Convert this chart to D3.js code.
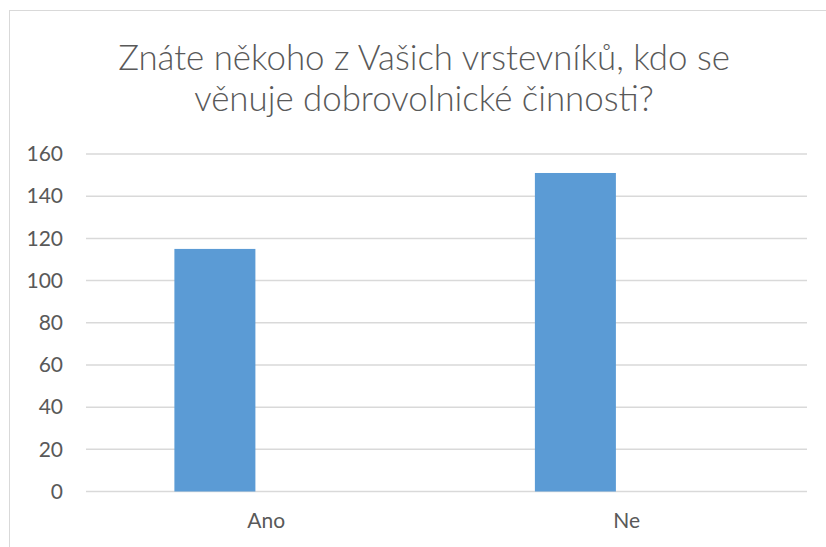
<!DOCTYPE html>
<html><head><meta charset="utf-8">
<script src="https://cdn.jsdelivr.net/npm/d3@7"></script>
<style>html,body{margin:0;padding:0;background:#fff;}svg{display:block;}</style>
</head><body>
<svg id="c" width="826" height="547"></svg>
<script>
const titleLines = ["Znáte někoho z Vašich vrstevníků, kdo se", "věnuje dobrovolnické činnosti?"];
const categories = ["Ano", "Ne"];
const seriesNames = ["Řada 1", "Řada 2"];
const series1 = [115, 151];
const series2 = [0, 0];
const yTicks = [0, 20, 40, 60, 80, 100, 120, 140, 160];

const svg = d3.select("#c");
const font = "Lato, 'Open Sans', sans-serif";
const W = 826, H = 547;
const m = {left: 86, right: 19, top: 154, bottom: 55.5};
const plotR = W - m.right, plotB = H - m.bottom;

svg.append("rect").attr("x", 9.5).attr("y", 10.5).attr("width", 830).attr("height", 545)
  .attr("fill", "#fff").attr("stroke", "#d9d9d9").attr("stroke-width", 1);

const y = d3.scaleLinear().domain([0, 160]).range([plotB, m.top]);
const x0 = d3.scaleBand().domain(categories).range([m.left, plotR]).padding(0);
const barW = x0.bandwidth() * 0.2247;
const gap = barW * 0.268;
const groupW = 2 * barW + gap;
const x1 = d3.scaleBand().domain(seriesNames).range([0, groupW])
  .paddingInner(gap / (barW + gap)).paddingOuter(0);
const groupOff = (x0.bandwidth() - groupW) / 2;

// gridlines
svg.append("g").selectAll("line").data(yTicks).join("line")
  .attr("x1", m.left).attr("x2", plotR)
  .attr("y1", d => y(d)).attr("y2", d => y(d))
  .attr("stroke", "#d9d9d9").attr("stroke-width", 1.5);

// y axis labels
const yAxis = d3.axisLeft(y).tickValues(yTicks).tickSize(0).tickPadding(0);
const gy = svg.append("g").attr("transform", `translate(63,0)`).call(yAxis);
gy.select(".domain").remove();
gy.selectAll("text").attr("font-family", font).attr("font-size", 21).attr("fill", "#595959");

// x axis labels
const xAxis = d3.axisBottom(x0).tickSize(0).tickPadding(0);
const gx = svg.append("g").attr("transform", `translate(0,${plotB + 22})`).call(xAxis);
gx.select(".domain").remove();
gx.selectAll("text").attr("font-family", font).attr("font-size", 21).attr("fill", "#595959");

// bars
const data = categories.map((c, i) => ({c, vals: [series1[i], series2[i]]}));
const colors = ["#5b9bd5", "#ed7d31"];
const groups = svg.append("g").selectAll("g").data(data).join("g")
  .attr("transform", d => `translate(${x0(d.c) + groupOff},0)`);
groups.selectAll("rect").data(d => d.vals.map((v, j) => ({v, s: seriesNames[j], j}))).join("rect")
  .attr("x", d => x1(d.s)).attr("width", x1.bandwidth())
  .attr("y", d => y(d.v)).attr("height", d => plotB - y(d.v))
  .attr("fill", d => colors[d.j])
  .attr("stroke", d => d.j === 1 ? "#cdb5ab" : "none").attr("stroke-width", 1);

// title
const tg = svg.append("g");
const targetW = 612;
const tt = tg.selectAll("text").data(titleLines).join("text")
  .attr("x", W / 2 + 11).attr("y", (d, i) => 70 + i * 41)
  .attr("text-anchor", "middle").attr("font-family", font).attr("font-size", 34)
  .attr("font-weight", 300)
  .attr("fill", "#595959").text(d => d);
const w0 = tt.nodes()[0].getComputedTextLength();
tt.attr("font-size", 34 * targetW / w0);
</script>
</body></html>
